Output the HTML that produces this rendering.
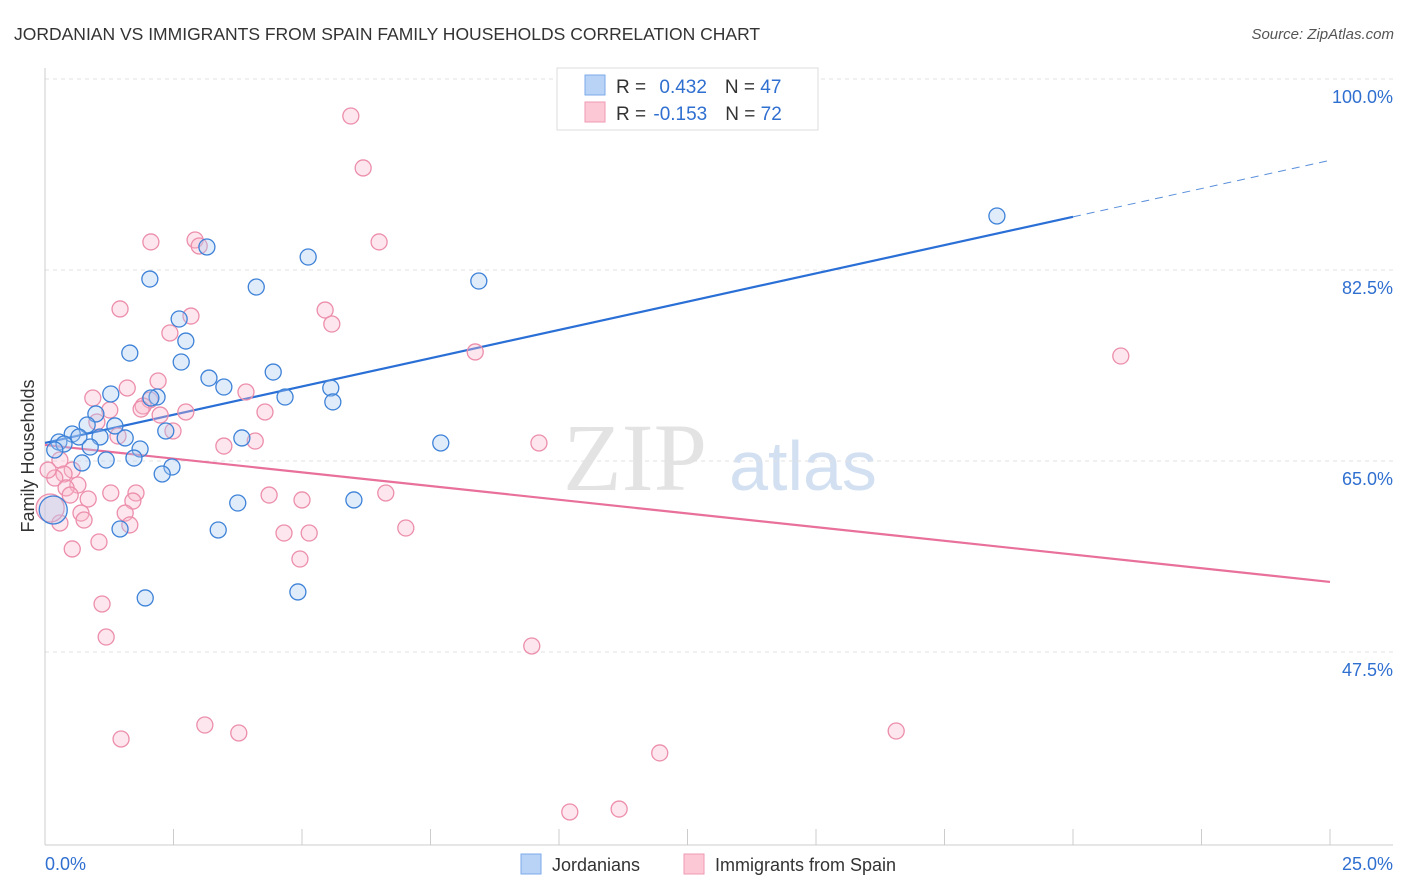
<!DOCTYPE html>
<html><head><meta charset="utf-8"><style>
body{margin:0;background:#fff;font-family:"Liberation Sans",sans-serif;}
svg{display:block}
</style></head><body>
<svg id="c" width="1406" height="892" xmlns="http://www.w3.org/2000/svg">
<text x="14" y="40" font-size="17.5" fill="#333">JORDANIAN VS IMMIGRANTS FROM SPAIN FAMILY HOUSEHOLDS CORRELATION CHART</text>
<text x="1394" y="39" font-size="15" fill="#555" font-style="italic" text-anchor="end">Source: ZipAtlas.com</text>
<text x="34" y="456" font-size="18" fill="#333" text-anchor="middle" transform="rotate(-90 34 456)">Family Households</text>
<g>
<text x="635" y="490" font-size="96" fill="#ddd" font-family="Liberation Serif" text-anchor="middle" opacity="0.8">ZIP</text>
<text x="803" y="490" font-size="70" fill="#c8d9ef" text-anchor="middle" opacity="0.8">atlas</text>
</g>
<g id="grid"></g><g id="axes"></g><g id="lines"></g><g id="pts"></g>
<g>
<rect x="557" y="68" width="261" height="62" fill="#fff" stroke="#ddd"/>
<rect x="585" y="75" width="20" height="20" fill="#b8d3f5" stroke="#7eaaea"/>
<rect x="585" y="102" width="20" height="20" fill="#fcc8d6" stroke="#ef9ab4"/>
<text x="616" y="93" font-size="19" fill="#333">R = <tspan fill="#2f6fd0" dx="8">0.432</tspan><tspan dx="18">N = </tspan><tspan fill="#2f6fd0">47</tspan></text>
<text x="616" y="120" font-size="19" fill="#333">R = <tspan fill="#2f6fd0" dx="2">-0.153</tspan><tspan dx="18">N = </tspan><tspan fill="#2f6fd0">72</tspan></text>
</g>
<g>
<rect x="521" y="854" width="20" height="20" fill="#b8d3f5" stroke="#7eaaea"/>
<text x="552" y="871" font-size="18" fill="#333">Jordanians</text>
<rect x="684" y="854" width="20" height="20" fill="#fcc8d6" stroke="#ef9ab4"/>
<text x="715" y="871" font-size="18" fill="#333">Immigrants from Spain</text>
</g>
</svg>
<script>
const yTicks=[100,82.5,65,47.5];
const yTickLabels=["100.0%","82.5%","65.0%","47.5%"];
const xTicks=[0,2.5,5,7.5,10,12.5,15,17.5,20,22.5,25];
const blueX=[18.52,5.12,8.44,2.04,4.11,3.15,2.61,2.74,1.65,2.65,3.19,3.48,4.44,4.67,5.56,5.60,2.18,2.06,1.28,0.99,1.36,0.82,0.53,0.66,1.07,1.56,0.27,0.37,0.19,1.85,1.19,1.73,0.72,2.35,3.83,2.47,2.28,7.70,3.75,6.01,3.37,1.46,1.95,4.92,0.16,0.88];
const blueY=[87.45,83.69,81.49,81.67,80.94,84.61,78.01,75.99,74.89,74.07,72.60,71.78,73.15,70.86,71.69,70.41,70.86,70.77,71.14,69.31,68.21,68.30,67.47,67.20,67.20,67.11,66.74,66.56,66.01,66.10,65.09,65.27,64.82,67.75,67.11,64.45,63.81,66.65,61.15,61.43,58.68,58.77,52.45,53.00,60.51,66.28];
const pinkX=[5.95,6.19,2.06,2.92,3.00,6.50,1.46,2.84,5.45,5.58,2.43,8.37,20.93,1.60,2.20,3.91,0.93,2.04,1.91,1.87,2.74,1.26,2.24,4.28,1.01,1.42,2.49,3.48,4.09,9.61,0.29,0.53,0.37,0.19,0.64,0.41,1.28,1.77,4.36,5.00,6.63,0.84,1.71,0.49,0.70,1.56,0.76,0.29,1.65,7.02,4.65,5.14,1.05,0.53,4.96,1.11,1.19,9.47,3.11,3.77,1.48,11.96,16.56,10.21,11.17,0.10,0.06];
const pinkY=[96.61,91.85,85.07,85.25,84.70,85.07,78.93,78.28,78.83,77.55,76.73,74.99,74.62,71.69,72.33,71.32,70.77,70.59,70.04,69.76,69.49,69.67,69.21,69.49,68.57,67.29,67.75,66.37,66.83,66.65,65.09,64.17,63.81,63.44,62.80,62.53,62.07,62.07,61.88,61.43,62.07,61.52,61.33,61.88,60.23,60.23,59.59,59.32,59.14,58.86,58.40,58.40,57.58,56.94,56.02,51.90,48.87,48.05,40.81,40.08,39.53,38.25,40.26,32.84,33.11,60.69,64.17];
const blueTrend=[66.65,1.036];
const pinkTrend=[66.47,-0.502];
const NS="http://www.w3.org/2000/svg";
function X(v){return 45+v*51.4;}
function Y(v){return 79+(100-v)*10.914;}
function mk(t,a,p){const e=document.createElementNS(NS,t);for(const k in a)e.setAttribute(k,a[k]);document.getElementById(p).appendChild(e);return e;}
yTicks.forEach((v,i)=>{
 const l=mk('line',{x1:45,x2:1393,y1:Y(v),y2:Y(v),stroke:'#e2e2e2','stroke-dasharray':'4,4'},'grid');
 
 
 const t=mk('text',{x:1393,y:Y(v)+24,'font-size':18,fill:'#2f6fd0','text-anchor':'end'},'grid');
 t.textContent=yTickLabels[i];
 
 
});
const ax=mk('line',{x1:45,x2:45,y1:68,y2:845,stroke:'#ccc'},'axes');


const bx=mk('line',{x1:45,x2:1393,y1:845,y2:845,stroke:'#ccc'},'axes');


xTicks.forEach(v=>{
 const t=mk('line',{x1:X(v),x2:X(v),y1:829,y2:845,stroke:'#ccc'},'axes');
 
 
});
const xl=mk('text',{x:45,y:870,'font-size':18,fill:'#2f6fd0'},'axes');xl.textContent='0.0%';


const xr=mk('text',{x:1393,y:870,'font-size':18,fill:'#2f6fd0','text-anchor':'end'},'axes');xr.textContent='25.0%';


function pts(xs,ys,fill,stroke,name){xs.forEach((x,i)=>{
 const big=(x<0.2&&(ys[i]>60&&ys[i]<61));
 const c=mk('circle',{cx:X(x),cy:Y(ys[i]),r:big?14:8,fill:fill,'fill-opacity':0.35,stroke:stroke,'stroke-width':1.3},'pts');
 
 
});}
pts(pinkX,pinkY,'#f9b8cb','#ec8eab','point-spain');
pts(blueX,blueY,'#a8c8f0','#3d82d8','point-jordanian');
function tl(tr,x0,x1,col,dash,name){const l=mk('line',{x1:X(x0),y1:Y(tr[0]+tr[1]*x0),x2:X(x1),y2:Y(tr[0]+tr[1]*x1),stroke:col,'stroke-width':dash?1:2.2},'lines');
 if(dash)l.setAttribute('stroke-dasharray','8,6');
 
 }
tl(blueTrend,0,20,'#2a6fd6',false,'trend-jordanians');
tl(blueTrend,20,25,'#5a90dc',true,'trend-jordanians-extrapolated');
tl(pinkTrend,0,25,'#e8709a',false,'trend-spain');
</script>
</body></html>
